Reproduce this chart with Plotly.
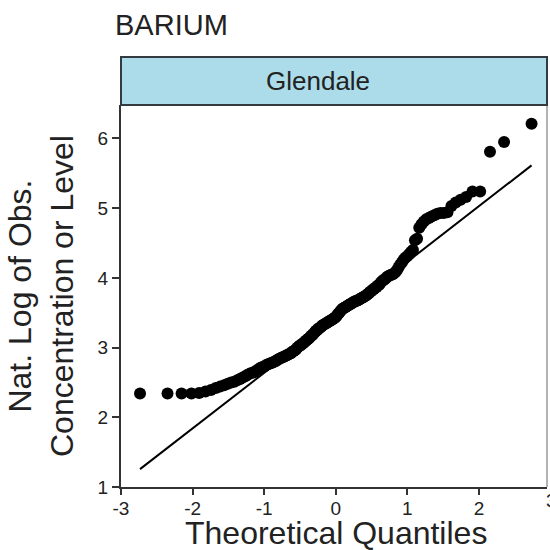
import numpy as np
from statistics import NormalDist
import plotly.graph_objects as go

title_text = "BARIUM"
panel_label = "Glendale"
x_title = "Theoretical Quantiles"
y_title = "Nat. Log of Obs.<br>Concentration or Level"
x_ticks = [-3, -2, -1, 0, 1, 2]
y_ticks = [1, 2, 3, 4, 5, 6]

obs = [
    2.34, 2.34, 2.34, 2.34, 2.35, 2.37, 2.39, 2.42, 2.44, 2.46,
    2.48, 2.50, 2.51, 2.53, 2.55, 2.57, 2.59, 2.61, 2.63, 2.64,
    2.65, 2.67, 2.69, 2.71, 2.72, 2.73, 2.75, 2.76, 2.77, 2.78,
    2.79, 2.80, 2.81, 2.83, 2.84, 2.85, 2.86, 2.87, 2.88, 2.89,
    2.90, 2.91, 2.92, 2.94, 2.95, 2.96, 2.98, 3.00, 3.02, 3.03,
    3.04, 3.06, 3.07, 3.09, 3.10, 3.12, 3.13, 3.15, 3.17, 3.18,
    3.20, 3.22, 3.24, 3.25, 3.27, 3.28, 3.29, 3.31, 3.32, 3.33,
    3.34, 3.35, 3.36, 3.37, 3.38, 3.39, 3.40, 3.41, 3.42, 3.43,
    3.45, 3.47, 3.49, 3.51, 3.53, 3.55, 3.56, 3.57, 3.58, 3.59,
    3.60, 3.61, 3.62, 3.63, 3.64, 3.65, 3.66, 3.67, 3.67, 3.68,
    3.69, 3.70, 3.71, 3.72, 3.73, 3.74, 3.75, 3.77, 3.78, 3.80,
    3.81, 3.83, 3.84, 3.86, 3.87, 3.89, 3.90, 3.93, 3.95, 3.97,
    3.98, 4.00, 4.02, 4.03, 4.04, 4.05, 4.06, 4.08, 4.11, 4.15,
    4.19, 4.22, 4.26, 4.29, 4.31, 4.34, 4.37, 4.40, 4.54, 4.56,
    4.72, 4.77, 4.81, 4.84, 4.86, 4.88, 4.90, 4.92, 4.93, 4.93,
    4.94, 5.03, 5.08, 5.12, 5.16, 5.24, 5.24, 5.81, 5.95, 6.21,
]

n = len(obs)
nd = NormalDist()
theo = [nd.inv_cdf((i + 0.5) / n) for i in range(n)]

# reference line through the quartiles (as qqline)
q1, q3 = np.percentile(obs, [25, 75])
z1, z3 = nd.inv_cdf(0.25), nd.inv_cdf(0.75)
slope = (q3 - q1) / (z3 - z1)
icpt = q1 - slope * z1
line_x = [min(theo), max(theo)]
line_y = [icpt + slope * v for v in line_x]

FONT = "Liberation Sans, Arial, sans-serif"
AX = "#333333"
TXT = "#222222"
PW = 426.0  # plot width px
PH = 382.0  # plot height px

fig = go.Figure()
fig.add_trace(go.Scatter(x=line_x, y=line_y, mode="lines",
                         line=dict(color="black", width=2), showlegend=False,
                         hoverinfo="skip"))
fig.add_trace(go.Scatter(x=theo, y=obs, mode="markers",
                         marker=dict(color="black", size=12, line=dict(width=0)),
                         showlegend=False))

fig.update_layout(
    width=550, height=550,
    margin=dict(l=121, r=3, t=105, b=63),
    paper_bgcolor="white", plot_bgcolor="white",
    font=dict(family=FONT, color=TXT),
    xaxis=dict(range=[-3, 2.95], tickvals=x_ticks, ticktext=[str(v) for v in x_ticks],
               showgrid=False, zeroline=False, showline=True, linecolor=AX, linewidth=2,
               ticks="outside", ticklen=6, tickwidth=1.5, tickcolor=AX,
               ticklabelstandoff=-3,
               tickfont=dict(size=19, color=TXT)),
    yaxis=dict(range=[1, 6.48], tickvals=y_ticks, ticktext=[str(v) for v in y_ticks],
               showgrid=False, zeroline=False, showline=True, linecolor=AX, linewidth=2,
               ticks="outside", ticklen=7, tickwidth=1.5, tickcolor=AX,
               tickfont=dict(size=19, color=TXT)),
    shapes=[
        dict(type="line", xref="paper", yref="paper", x0=1, x1=1, y0=0, y1=1,
             line=dict(color="#999999", width=1.5)),
        dict(type="rect", xref="paper", yref="paper", x0=0, x1=1, y0=1, y1=1 + 48 / PH,
             fillcolor="#acdce9", line=dict(color="#333b40", width=2)),
    ],
    annotations=[
        dict(text=title_text, xref="paper", yref="paper", x=0, y=1 + 80 / PH,
             xanchor="left", yanchor="middle", xshift=-8, showarrow=False,
             font=dict(size=29, color=TXT)),
        dict(text=panel_label, xref="paper", yref="paper", x=(318 - 121) / PW, y=1 + 24 / PH,
             xanchor="center", yanchor="middle", showarrow=False,
             font=dict(size=26, color=TXT)),
        dict(text=x_title, xref="paper", yref="paper", x=(335.7 - 121) / PW, y=-46 / PH,
             xanchor="center", yanchor="middle", showarrow=False,
             font=dict(size=32, color=TXT)),
        dict(text=y_title, xref="paper", yref="paper", x=0, y=0.5, xshift=-80,
             xanchor="center", yanchor="middle", textangle=-90, showarrow=False,
             font=dict(size=32, color=TXT)),
        dict(text="3", xref="paper", yref="paper", x=(551 - 121) / PW, y=-13 / PH,
             xanchor="center", yanchor="middle", showarrow=False,
             font=dict(size=19, color=TXT)),
    ],
)

fig.write_html("out.html")
